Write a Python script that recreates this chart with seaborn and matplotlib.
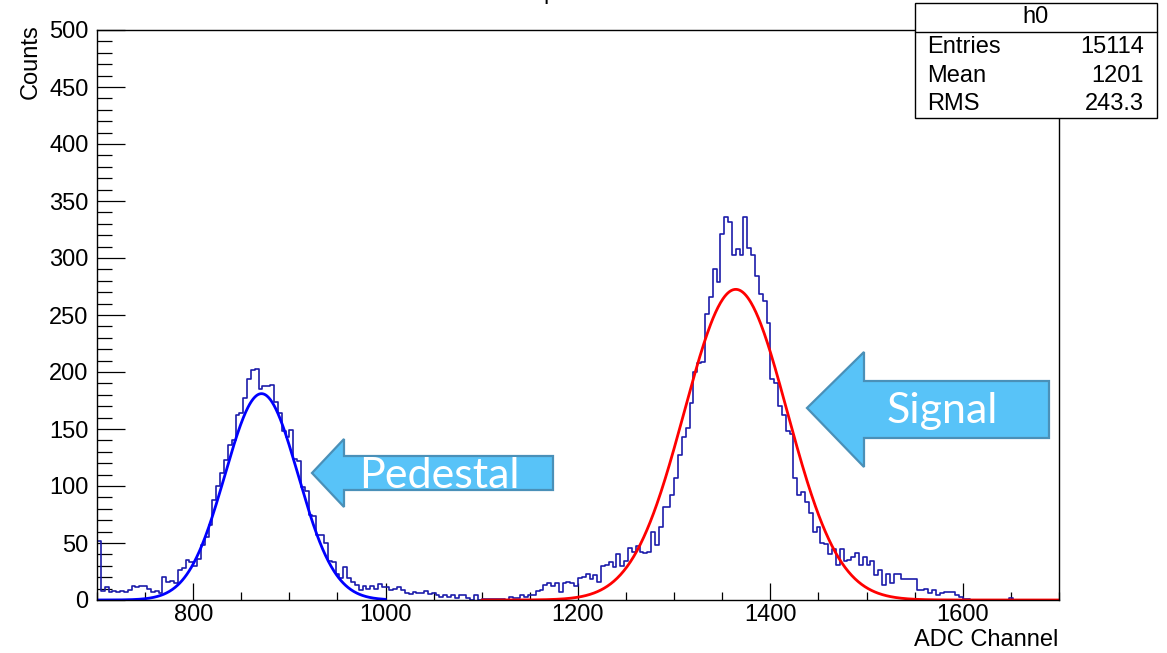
import numpy as np
import pandas as pd
import matplotlib
matplotlib.use("Agg")
import matplotlib.pyplot as plt
import seaborn as sns
from matplotlib.patches import Polygon, Rectangle
from matplotlib.lines import Line2D
from matplotlib.ticker import MultipleLocator

# ---------------- data ----------------
# histogram h0: 250 bins of width 4 ADC channels, 700 .. 1700
bin_edges = list(range(700, 1704, 4))
counts_pedestal = [52, 8, 11, 7, 8, 7, 8, 7, 9, 12,
                   11, 12, 12, 10, 7, 8, 6, 20, 16, 17,
                   15, 26, 28, 35, 33, 30, 36, 48, 55, 66,
                   88, 100, 111, 123, 136, 140, 162, 164, 177, 194,
                   202, 203, 185, 188, 188, 189, 174, 164, 148, 143,
                   149, 124, 122, 99, 96, 75, 74, 57, 57, 50,
                   34, 33, 23, 19]
counts_gap = [29, 19, 16, 13, 9, 12, 10, 12, 10, 14,
              11, 11, 9, 10, 11, 9, 6, 5, 7, 6,
              6, 8, 5, 6, 4, 3, 4, 3, 4, 2,
              4, 4, 2, 0, 4, 0, 1, 1, 1, 1,
              1, 1, 0, 3, 2, 2, 4, 3, 4, 4,
              8, 9, 13, 15, 12, 15, 7, 15, 16, 15,
              12, 19, 20, 23, 18, 22]
counts_signal = [16, 30, 31, 33, 29, 40, 30, 34, 46, 42,
                 47, 42, 41, 42, 60, 48, 64, 82, 82, 92,
                 107, 127, 143, 151, 173, 200, 208, 209, 251, 266,
                 290, 279, 321, 336, 332, 303, 308, 303, 336, 309,
                 303, 284, 268, 262, 243, 194, 190, 170, 162, 148,
                 146, 107, 92]
counts_tail = [95, 86, 76, 60, 64, 50, 49, 40, 45, 31,
               45, 34, 35, 38, 41, 31, 38, 31, 34, 22,
               26, 13, 23, 15, 23, 23, 18, 18, 18, 18,
               9, 9, 10, 6, 9, 4, 6, 7, 7, 7,
               4, 3, 1, 1, 0, 0, 0, 0, 0, 0,
               0, 0, 0, 0, 2, 0, 0, 0, 0, 0,
               0, 0, 0, 0, 0, 0, 0]
counts = counts_pedestal + counts_gap + counts_signal + counts_tail

# gaussian fits (amplitude, mean, sigma, fit range)
ped_amp, ped_mean, ped_sigma, ped_range = 181.0, 871.0, 38.0, (700, 1000)
sig_amp, sig_mean, sig_sigma, sig_range = 272.5, 1364.0, 53.5, (1100, 1700)

x_ticks = [800, 1000, 1200, 1400, 1600]
y_ticks = [0, 50, 100, 150, 200, 250, 300, 350, 400, 450, 500]
stat_title = "h0"
stat_names = ["Entries", "Mean", "RMS"]
stat_values = ["15114", "1201", "243.3"]
x_label = "ADC Channel"
y_label = "Counts"
arrow_labels = ["Pedestal", "Signal"]

# ---------------- figure ----------------
sns.set_style("white")
plt.rcParams["font.family"] = ["Liberation Sans", "DejaVu Sans"]
plt.rcParams["text.color"] = "black"
plt.rcParams["xtick.color"] = "black"
plt.rcParams["ytick.color"] = "black"
plt.rcParams["xtick.labelcolor"] = "black"
plt.rcParams["ytick.labelcolor"] = "black"

W, H = 1167, 653
fig = plt.figure(figsize=(W / 100, H / 100), dpi=100)
FS = 17


def fx(px):
    return px / W


def fy(py):
    return 1 - py / H


ax = fig.add_axes([fx(97), fy(600), fx(1059) - fx(97), fy(30) - fy(600)])

edges = np.array(bin_edges, dtype=float)
centers = (edges[:-1] + edges[1:]) / 2
df = pd.DataFrame({"adc": centers, "n": np.array(counts, dtype=float)})
sns.histplot(data=df, x="adc", weights="n", bins=bin_edges, element="step",
             fill=False, color="#1c1caa", linewidth=1.2, ax=ax)

xp = np.linspace(ped_range[0], ped_range[1], 500)
yp = ped_amp * np.exp(-0.5 * ((xp - ped_mean) / ped_sigma) ** 2)
sns.lineplot(x=xp, y=yp, color="#0000ff", linewidth=2.0, ax=ax,
             estimator=None, sort=False)

xs = np.linspace(sig_range[0], sig_range[1], 700)
ys = sig_amp * np.exp(-0.5 * ((xs - sig_mean) / sig_sigma) ** 2)
sns.lineplot(x=xs, y=ys, color="#ff0000", linewidth=2.0, ax=ax,
             estimator=None, sort=False)

ax.set_xlim(700, 1700)
ax.set_ylim(0, 500)
ax.set_xticks(x_ticks)
ax.set_yticks(y_ticks)
ax.xaxis.set_minor_locator(MultipleLocator(50))
ax.yaxis.set_minor_locator(MultipleLocator(10))
ax.tick_params(axis="both", which="both", direction="in", top=False,
               right=False, left=True, bottom=True, color="black",
               width=0.9)
ax.tick_params(axis="y", which="major", length=20, labelsize=FS, pad=6)
ax.tick_params(axis="y", which="minor", length=10.5)
ax.tick_params(axis="x", which="major", length=12.5, labelsize=FS, pad=3)
ax.tick_params(axis="x", which="minor", length=6)
ax.set_xlabel("")
ax.set_ylabel("")
for s in ax.spines.values():
    s.set_visible(True)
    s.set_color("black")
    s.set_linewidth(1.0)

fig.text(fx(1058), fy(640), x_label, ha="right", va="center", fontsize=FS)
fig.text(fx(31), fy(24), y_label, ha="center", va="top", rotation=90,
         fontsize=FS)

# cut-off title at the top edge (only its descender is visible)
fig.text(fx(543), fy(-1.5), "p", ha="left", va="baseline", fontsize=FS)

# statistics box
box_l, box_r, box_t, box_b, box_h = 915, 1157, 3, 118, 32
fig.patches.append(Rectangle((fx(box_l), fy(box_b)), fx(box_r) - fx(box_l),
                             fy(box_t) - fy(box_b), transform=fig.transFigure,
                             facecolor="white", edgecolor="black",
                             linewidth=1.0, zorder=5))
fig.lines.append(Line2D([fx(box_l), fx(box_r)], [fy(box_h), fy(box_h)],
                        transform=fig.transFigure, color="black",
                        linewidth=1.0, zorder=6))
fig.text(fx((box_l + box_r) / 2), fy(17), stat_title, ha="center",
         va="center", fontsize=FS, zorder=7)
for i, (nm, val) in enumerate(zip(stat_names, stat_values)):
    yy = fy(47 + 28.5 * i)
    fig.text(fx(927), yy, nm, ha="left", va="center", fontsize=FS, zorder=7)
    fig.text(fx(1144), yy, val, ha="right", va="center", fontsize=FS,
             zorder=7)

# annotation arrows
arrow_face = "#58c3f8"
arrow_edge = "#4a90b8"


def left_arrow(tip_x, tip_y, neck_x, head_top, head_bot, shaft_top,
               shaft_bot, right_x):
    pts = [(tip_x, tip_y), (neck_x, head_top), (neck_x, shaft_top),
           (right_x, shaft_top), (right_x, shaft_bot), (neck_x, shaft_bot),
           (neck_x, head_bot)]
    pts = [(fx(a), fy(b)) for a, b in pts]
    fig.patches.append(Polygon(pts, closed=True, transform=fig.transFigure,
                               facecolor=arrow_face, edgecolor=arrow_edge,
                               linewidth=1.6, zorder=5))


left_arrow(312, 473, 344, 439, 507, 456, 490, 553)
left_arrow(807, 408, 864, 352, 467, 381, 438, 1049)
fig.text(fx(439), fy(488), arrow_labels[0], ha="center", va="baseline",
         fontsize=31, color="white", family=["Lato", "DejaVu Sans"], zorder=7)
fig.text(fx(942), fy(423), arrow_labels[1], ha="center", va="baseline",
         fontsize=31, color="white", family=["Lato", "DejaVu Sans"], zorder=7)

fig.savefig("out.png", dpi=100)
